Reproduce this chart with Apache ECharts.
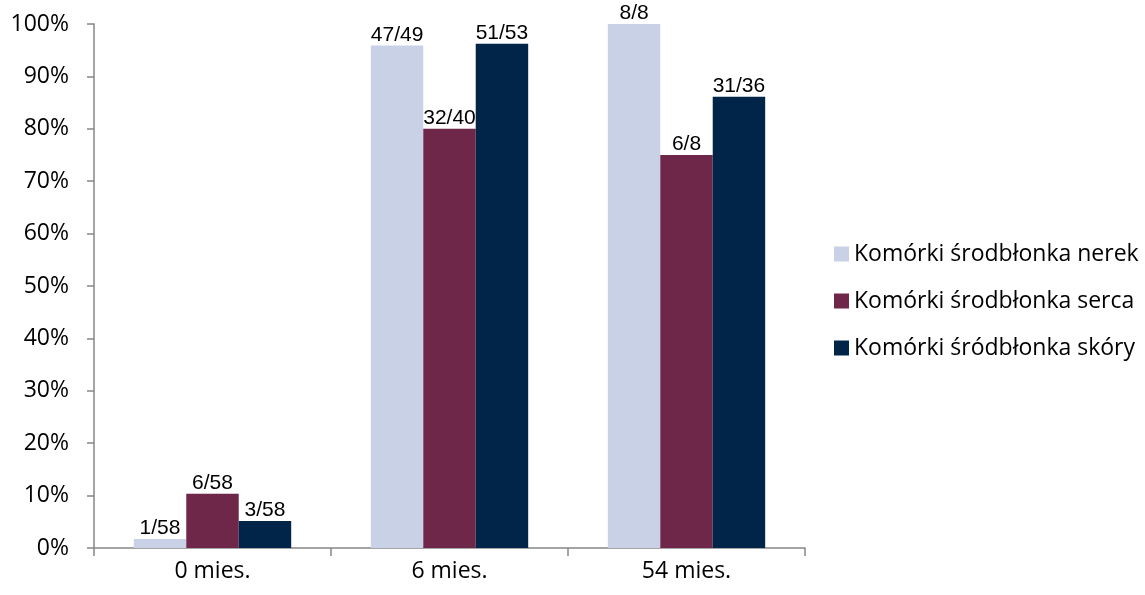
<!DOCTYPE html>
<html>
<head>
<meta charset="utf-8">
<script src="https://cdn.jsdelivr.net/npm/echarts@6/dist/echarts.min.js"></script>
<style>
  html, body { margin: 0; padding: 0; background: #fff; }
  #chart { width: 1145px; height: 595px; }
</style>
</head>
<body>
<div id="chart"></div>
<script>
// Time points after transplantation
const categories = ['0 mies.', '6 mies.', '54 mies.'];

// Positive cells / examined cells for each endothelium type
const nerekPos = [1, 47, 8];
const nerekAll = [58, 49, 8];
const sercaPos = [6, 32, 6];
const sercaAll = [58, 40, 8];
const skoryPos = [3, 51, 31];
const skoryAll = [58, 53, 36];

const seriesNames = [
  'Komórki środbłonka nerek',
  'Komórki środbłonka serca',
  'Komórki śródbłonka skóry'
];

const yTicks = { min: 0, max: 100, interval: 10 };

const colors = ['#C9D1E6', '#6E2649', '#002548'];

const uiFont = '"Open Sans", Lato, sans-serif';

function buildSeries(name, pos, all, color) {
  return {
    name: name,
    type: 'bar',
    barGap: '0%',
    barCategoryGap: '33.6%',
    itemStyle: { color: color },
    label: {
      show: true,
      position: 'top',
      distance: 0,
      color: '#000',
      fontFamily: '"Liberation Sans", Arial, sans-serif',
      fontSize: 21,
      formatter: function (p) { return pos[p.dataIndex] + '/' + all[p.dataIndex]; }
    },
    data: pos.map(function (v, i) { return v / all[i] * 100; })
  };
}

const chart = echarts.init(document.getElementById('chart'));
chart.setOption({
  animation: false,
  backgroundColor: '#fff',
  textStyle: { fontFamily: uiFont },
  grid: { left: 94, right: 340, top: 24, bottom: 47, containLabel: false },
  legend: {
    orient: 'vertical',
    left: 829,
    top: 236,
    itemWidth: 15,
    itemHeight: 15,
    itemGap: 21,
    icon: 'rect',
    textStyle: { fontSize: 23, color: '#000', lineHeight: 26, fontFamily: uiFont },
    data: seriesNames
  },
  xAxis: {
    type: 'category',
    data: categories,
    axisLine: { lineStyle: { color: '#868686', width: 1.5 } },
    axisTick: { show: true, alignWithLabel: false, length: 8, lineStyle: { color: '#868686', width: 1.5 } },
    axisLabel: { color: '#000', fontSize: 23, margin: 12, fontFamily: uiFont }
  },
  yAxis: {
    type: 'value',
    min: yTicks.min,
    max: yTicks.max,
    interval: yTicks.interval,
    splitLine: { show: false },
    axisLine: { show: true, lineStyle: { color: '#868686', width: 1.5 } },
    axisTick: { show: true, length: 7, lineStyle: { color: '#868686', width: 1.5 } },
    axisLabel: { color: '#000', fontSize: 23, margin: 25, fontFamily: uiFont, formatter: '{value}%' }
  },
  series: [
    buildSeries(seriesNames[0], nerekPos, nerekAll, colors[0]),
    buildSeries(seriesNames[1], sercaPos, sercaAll, colors[1]),
    buildSeries(seriesNames[2], skoryPos, skoryAll, colors[2])
  ]
});
</script>
</body>
</html>
